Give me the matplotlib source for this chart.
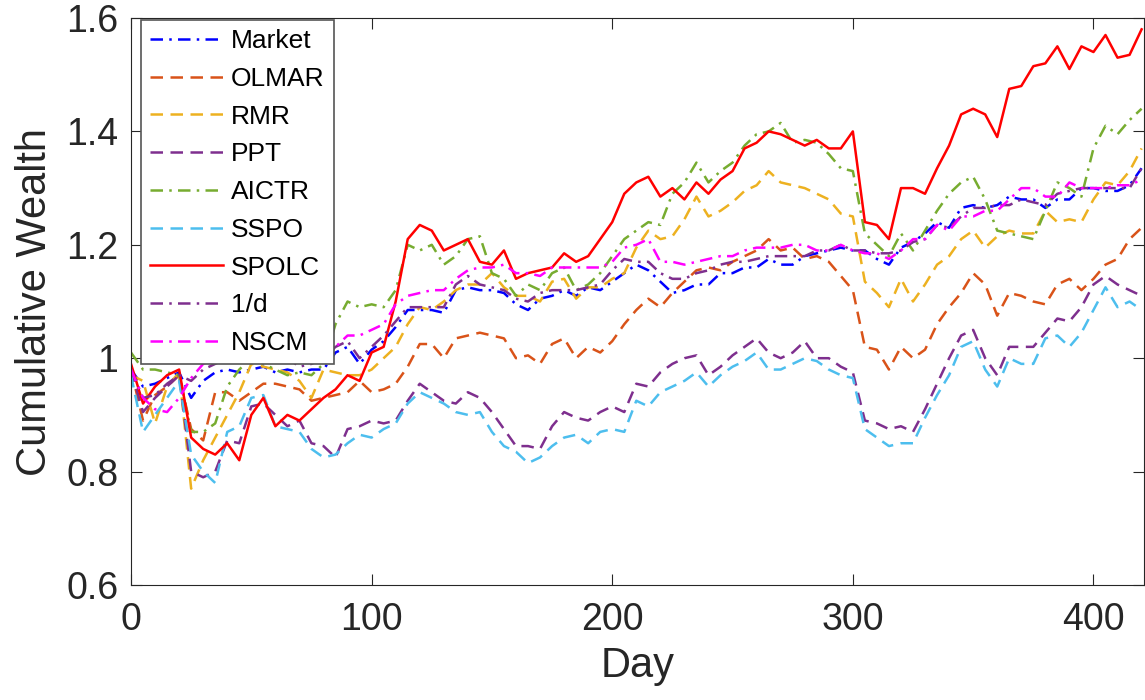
import matplotlib
matplotlib.use("Agg")
import matplotlib.pyplot as plt

plt.rcParams["font.family"] = ["Liberation Sans", "DejaVu Sans"]

# trading days, sampled every 5 days
days = list(range(0, 421, 5))

market = [0.98, 0.95, 0.955, 0.965, 0.975, 0.93, 0.96, 0.975, 0.98, 0.975, 0.98, 0.985, 0.975, 0.98, 0.975, 0.98, 0.98, 1.01, 1.02, 0.99,
          1.015, 1.03, 1.055, 1.085, 1.085, 1.085, 1.08, 1.12, 1.125, 1.12, 1.12, 1.115, 1.095, 1.085, 1.105, 1.11, 1.12, 1.11, 1.125, 1.12,
          1.135, 1.15, 1.165, 1.155, 1.135, 1.115, 1.12, 1.13, 1.13, 1.15, 1.15, 1.16, 1.16, 1.175, 1.165, 1.165, 1.18, 1.185, 1.19, 1.195,
          1.19, 1.19, 1.175, 1.165, 1.195, 1.205, 1.22, 1.24, 1.23, 1.265, 1.27, 1.265, 1.27, 1.285, 1.28, 1.28, 1.265, 1.28, 1.28, 1.30,
          1.30, 1.295, 1.295, 1.305, 1.335]
olmar = [0.98, 0.89, 0.935, 0.95, 0.97, 0.875, 0.855, 0.94, 0.94, 0.925, 0.94, 0.955, 0.955, 0.95, 0.945, 0.925, 0.93, 0.935, 0.94, 0.96,
         0.94, 0.945, 0.955, 0.985, 1.025, 1.025, 1.0, 1.035, 1.04, 1.045, 1.04, 1.035, 1.0, 1.005, 0.99, 1.025, 1.035, 1.0, 1.02, 1.01,
         1.03, 1.06, 1.085, 1.105, 1.09, 1.115, 1.135, 1.155, 1.16, 1.155, 1.17, 1.18, 1.19, 1.21, 1.19, 1.195, 1.175, 1.18, 1.17, 1.145,
         1.12, 1.02, 1.015, 0.98, 1.02, 1.0, 1.015, 1.06, 1.09, 1.115, 1.15, 1.13, 1.075, 1.115, 1.11, 1.10, 1.095, 1.13, 1.14, 1.12,
         1.14, 1.165, 1.175, 1.21, 1.23]
rmr = [0.97, 0.96, 0.885, 0.95, 0.975, 0.77, 0.82, 0.86, 0.90, 0.94, 0.99, 0.985, 0.98, 0.975, 0.96, 0.93, 0.98, 0.975, 0.97, 0.97,
       0.98, 1.0, 1.02, 1.06, 1.09, 1.085, 1.10, 1.12, 1.13, 1.13, 1.15, 1.125, 1.11, 1.11, 1.10, 1.135, 1.14, 1.105, 1.125, 1.125,
       1.14, 1.15, 1.195, 1.225, 1.21, 1.215, 1.245, 1.285, 1.25, 1.26, 1.275, 1.295, 1.305, 1.33, 1.31, 1.305, 1.30, 1.29, 1.28, 1.255,
       1.25, 1.135, 1.115, 1.09, 1.14, 1.10, 1.13, 1.165, 1.18, 1.21, 1.225, 1.195, 1.215, 1.225, 1.22, 1.22, 1.26, 1.24, 1.245, 1.24,
       1.28, 1.31, 1.305, 1.33, 1.37]
ppt = [0.98, 0.905, 0.93, 0.95, 0.97, 0.80, 0.79, 0.80, 0.855, 0.85, 0.915, 0.92, 0.90, 0.88, 0.89, 0.85, 0.845, 0.825, 0.875, 0.88,
       0.89, 0.885, 0.89, 0.925, 0.955, 0.94, 0.925, 0.92, 0.94, 0.93, 0.905, 0.875, 0.845, 0.845, 0.84, 0.88, 0.905, 0.895, 0.89, 0.905,
       0.915, 0.905, 0.955, 0.95, 0.975, 0.99, 1.0, 1.005, 0.97, 0.985, 1.005, 1.02, 1.035, 1.01, 1.0, 1.01, 1.03, 1.0, 1.0, 0.985,
       0.975, 0.89, 0.885, 0.875, 0.88, 0.87, 0.91, 0.955, 1.0, 1.04, 1.05, 1.0, 0.97, 1.02, 1.02, 1.02, 1.045, 1.07, 1.065, 1.09,
       1.13, 1.145, 1.13, 1.12, 1.11]
aictr = [1.01, 0.98, 0.98, 0.975, 0.97, 0.87, 0.87, 0.885, 0.95, 0.98, 1.0, 0.99, 0.98, 0.97, 0.975, 0.97, 0.99, 1.06, 1.10, 1.09,
         1.095, 1.09, 1.12, 1.20, 1.19, 1.20, 1.165, 1.18, 1.21, 1.215, 1.15, 1.14, 1.11, 1.13, 1.12, 1.15, 1.16, 1.12, 1.13, 1.15,
         1.18, 1.21, 1.225, 1.24, 1.235, 1.29, 1.31, 1.345, 1.31, 1.33, 1.345, 1.375, 1.395, 1.40, 1.415, 1.38, 1.385, 1.38, 1.36, 1.335,
         1.33, 1.22, 1.20, 1.18, 1.22, 1.19, 1.225, 1.26, 1.29, 1.31, 1.32, 1.28, 1.225, 1.22, 1.215, 1.21, 1.26, 1.31, 1.30, 1.285,
         1.37, 1.41, 1.395, 1.42, 1.44]
sspo = [0.97, 0.87, 0.90, 0.93, 0.96, 0.83, 0.80, 0.78, 0.87, 0.88, 0.93, 0.935, 0.88, 0.875, 0.87, 0.84, 0.825, 0.83, 0.85, 0.865,
        0.86, 0.875, 0.885, 0.92, 0.94, 0.93, 0.92, 0.905, 0.90, 0.905, 0.87, 0.845, 0.835, 0.815, 0.825, 0.845, 0.86, 0.865, 0.85, 0.87,
        0.875, 0.87, 0.925, 0.915, 0.94, 0.95, 0.96, 0.975, 0.95, 0.97, 0.985, 0.995, 1.01, 0.98, 0.98, 0.99, 1.0, 0.995, 0.98, 0.97,
        0.965, 0.875, 0.86, 0.845, 0.85, 0.85, 0.895, 0.935, 0.97, 1.02, 1.03, 0.98, 0.95, 1.0, 0.99, 0.99, 1.035, 1.04, 1.02, 1.045,
        1.085, 1.125, 1.09, 1.10, 1.085]
spolc = [0.99, 0.92, 0.95, 0.97, 0.98, 0.86, 0.84, 0.83, 0.85, 0.82, 0.90, 0.93, 0.88, 0.90, 0.89, 0.91, 0.93, 0.945, 0.97, 0.96,
         1.01, 1.02, 1.10, 1.21, 1.235, 1.225, 1.19, 1.20, 1.21, 1.17, 1.165, 1.19, 1.14, 1.15, 1.155, 1.16, 1.185, 1.17, 1.18, 1.21,
         1.24, 1.29, 1.31, 1.32, 1.285, 1.30, 1.28, 1.31, 1.29, 1.315, 1.33, 1.37, 1.38, 1.40, 1.395, 1.385, 1.375, 1.385, 1.37, 1.37,
         1.40, 1.24, 1.235, 1.21, 1.30, 1.30, 1.29, 1.335, 1.375, 1.43, 1.44, 1.43, 1.39, 1.475, 1.48, 1.515, 1.52, 1.55, 1.51, 1.55,
         1.54, 1.57, 1.53, 1.535, 1.58]
one_over_d = [0.98, 0.93, 0.935, 0.955, 0.97, 0.96, 0.98, 0.99, 1.0, 0.995, 1.0, 1.0, 0.99, 1.0, 0.985, 0.99, 1.0, 1.02, 1.03, 1.0,
              1.02, 1.04, 1.065, 1.09, 1.09, 1.09, 1.09, 1.13, 1.145, 1.13, 1.125, 1.12, 1.105, 1.10, 1.115, 1.12, 1.12, 1.12, 1.125, 1.13,
              1.155, 1.175, 1.17, 1.17, 1.15, 1.14, 1.14, 1.15, 1.155, 1.165, 1.17, 1.17, 1.175, 1.18, 1.18, 1.18, 1.18, 1.19, 1.19, 1.20,
              1.19, 1.19, 1.185, 1.185, 1.19, 1.205, 1.21, 1.235, 1.23, 1.25, 1.265, 1.265, 1.27, 1.27, 1.28, 1.275, 1.27, 1.29, 1.295, 1.30,
              1.30, 1.30, 1.30, 1.30, 1.335]
nscm = [0.98, 0.93, 0.91, 0.905, 0.93, 0.965, 0.99, 1.0, 1.0, 1.005, 1.0, 1.0, 1.01, 1.01, 1.0, 1.01, 1.0, 1.02, 1.04, 1.04,
        1.05, 1.06, 1.095, 1.11, 1.115, 1.12, 1.12, 1.14, 1.155, 1.16, 1.16, 1.165, 1.15, 1.15, 1.145, 1.16, 1.16, 1.16, 1.16, 1.16,
        1.17, 1.195, 1.20, 1.21, 1.17, 1.17, 1.165, 1.17, 1.175, 1.18, 1.18, 1.19, 1.195, 1.195, 1.195, 1.20, 1.20, 1.19, 1.19, 1.20,
        1.19, 1.185, 1.185, 1.175, 1.19, 1.21, 1.21, 1.235, 1.225, 1.25, 1.25, 1.26, 1.26, 1.28, 1.30, 1.30, 1.285, 1.285, 1.31, 1.30,
        1.30, 1.30, 1.305, 1.305, 1.315]

names = ["Market", "OLMAR", "RMR", "PPT", "AICTR", "SSPO", "SPOLC", "1/d", "NSCM"]
series = [market, olmar, rmr, ppt, aictr, sspo, spolc, one_over_d, nscm]
colors = ["#0000FF", "#D95319", "#EDB120", "#7E2F8E", "#77AC30", "#4DBEEE", "#FF0000", "#7E2F8E", "#FF00FF"]
dash = (5, 3)
dashdot = (5, 2.5, 1, 2.5)
styles = [dashdot, dash, dash, dash, dashdot, dash, None, dashdot, dashdot]

fig = plt.figure(figsize=(11.45, 7), dpi=100)
ax = fig.add_axes([131 / 1145, 115 / 700, 1013 / 1145, 567 / 700])

for name, vals, c, ls in zip(names, series, colors, styles):
    line, = ax.plot(days, vals, color=c, lw=1.8, label=name)
    if ls is not None:
        line.set_dashes(ls)

ax.set_xlim(0, 421)
ax.set_ylim(0.6, 1.6)
ax.set_xticks([0, 100, 200, 300, 400])
ax.set_yticks([0.6, 0.8, 1.0, 1.2, 1.4, 1.6])
ax.set_yticklabels(["0.6", "0.8", "1", "1.2", "1.4", "1.6"])
ax.tick_params(direction="in", length=8, width=0.8, labelsize=27, pad=9,
               top=True, right=True, colors="#262626", labelcolor="#262626")
ax.tick_params(axis="x", pad=12)
for s in ax.spines.values():
    s.set_color("#262626")
    s.set_linewidth(0.8)

ax.set_xlabel("Day", fontsize=30, color="#262626", labelpad=6)
ax.set_ylabel("Cumulative Wealth", fontsize=30, color="#262626", labelpad=8)

leg = ax.legend(loc="upper left", bbox_to_anchor=(10 / 1013, 1 - 2 / 567), borderaxespad=0,
                fontsize=19, handlelength=2.75, handletextpad=0.3, labelspacing=0.52,
                borderpad=0.35, fancybox=False, framealpha=1)
leg.get_frame().set_edgecolor("#555555")
leg.get_frame().set_linewidth(1.2)

fig.savefig("out.png", dpi=100)
